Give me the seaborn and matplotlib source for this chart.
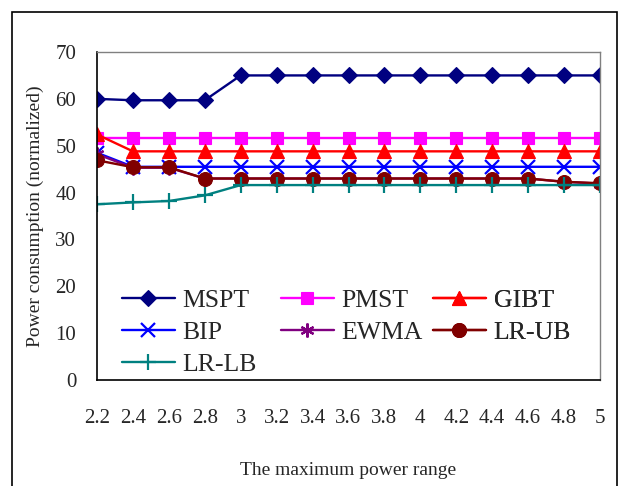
import matplotlib
matplotlib.use("Agg")
import matplotlib.pyplot as plt
import seaborn as sns
import pandas as pd
from matplotlib.patches import Rectangle

x_labels = ["2.2", "2.4", "2.6", "2.8", "3", "3.2", "3.4", "3.6", "3.8", "4",
            "4.2", "4.4", "4.6", "4.8", "5"]
mspt = [60.0, 59.7, 59.7, 59.7, 65, 65, 65, 65, 65, 65, 65, 65, 65, 65, 65]
pmst = [51.6, 51.6, 51.6, 51.6, 51.6, 51.6, 51.6, 51.6, 51.6, 51.6, 51.6, 51.6, 51.6, 51.6, 51.6]
gibt = [52.4, 48.8, 48.8, 48.8, 48.8, 48.8, 48.8, 48.8, 48.8, 48.8, 48.8, 48.8, 48.8, 48.8, 48.8]
bip = [48.5, 45.5, 45.5, 45.5, 45.5, 45.5, 45.5, 45.5, 45.5, 45.5, 45.5, 45.5, 45.5, 45.5, 45.5]
ewma = [48.2, 45.3, 45.3, 43.0, 43.0, 43.0, 43.0, 43.0, 43.0, 43.0, 43.0, 43.0, 43.0, 42.3, 41.9]
lr_ub = [46.9, 45.4, 45.4, 43.0, 43.0, 43.0, 43.0, 43.0, 43.0, 43.0, 43.0, 43.0, 43.0, 42.3, 42.0]
lr_lb = [37.5, 37.9, 38.2, 39.4, 41.6, 41.6, 41.6, 41.6, 41.6, 41.6, 41.6, 41.6, 41.6, 41.6, 41.6]

series = {"MSPT": mspt, "PMST": pmst, "GIBT": gibt, "BIP": bip,
          "EWMA": ewma, "LR-UB": lr_ub, "LR-LB": lr_lb}

rows = []
for name, vals in series.items():
    for i, v in enumerate(vals):
        rows.append({"pos": i, "value": v, "series": name})
df = pd.DataFrame(rows)

sns.set_style("white")
plt.rcParams["font.family"] = ["Liberation Serif", "DejaVu Serif"]

colors = {"MSPT": "#000080", "PMST": "#FF00FF", "GIBT": "#FF0000", "BIP": "#0000FF",
          "EWMA": "#800080", "LR-UB": "#800000", "LR-LB": "#008080"}
markers = {"MSPT": "D", "PMST": "s", "GIBT": "^", "BIP": "x",
           "EWMA": (6, 2, 0), "LR-UB": "o", "LR-LB": "+"}
msizes = {"MSPT": 8.5, "PMST": 9, "GIBT": 10, "BIP": 10,
          "EWMA": 10, "LR-UB": 10, "LR-LB": 11}

fig = plt.figure(figsize=(6.18, 4.86), dpi=100)
ax = fig.add_axes([97/618, (486-380)/486, (600-97)/618, (380-52)/486])

order = ["MSPT", "PMST", "GIBT", "BIP", "EWMA", "LR-UB", "LR-LB"]
handles = {}
for name in order:
    sub = df[df["series"] == name]
    sns.lineplot(data=sub, x="pos", y="value", ax=ax, color=colors[name],
                 marker=markers[name], markersize=msizes[name], linewidth=1.7,
                 markeredgewidth=1.6 if name in ("BIP", "EWMA", "LR-LB") else 0.8,
                 markeredgecolor=colors[name], label=name, legend=False)
    handles[name] = ax.lines[-1]

ax.set_xlim(0, len(x_labels) - 1)
ax.set_ylim(0, 70)
ax.set_xticks(range(len(x_labels)))
ax.set_xticklabels(x_labels)
ax.set_yticks(range(0, 71, 10))
ax.tick_params(axis="x", direction="in", length=6, pad=21, labelsize=15, color="black")
ax.tick_params(axis="y", direction="in", length=6, pad=15, labelsize=15, color="black")
for s in ["left", "bottom"]:
    ax.spines[s].set_color("black")
    ax.spines[s].set_linewidth(1.2)
for s in ["top", "right"]:
    ax.spines[s].set_color("#808080")
    ax.spines[s].set_linewidth(1.0)

ax.set_xlabel("The maximum power range", fontsize=14, labelpad=24)
ax.set_ylabel("Power consumption (normalized)", fontsize=14, labelpad=8)

cols = [(["MSPT", "BIP", "LR-LB"], (122 - 97) / 503),
        (["PMST", "EWMA"], (281 - 97) / 503),
        (["GIBT", "LR-UB"], (433 - 97) / 503)]
top_y = (380 - 289) / 328
for names, xpos in cols:
    leg = ax.legend([handles[n] for n in names], names, loc="upper left",
                    bbox_to_anchor=(xpos, top_y), frameon=False, fontsize=18.5,
                    handlelength=2.06, handletextpad=0.3, borderpad=0,
                    borderaxespad=0, labelspacing=0.36)
    ax.add_artist(leg)

fig.patches.append(Rectangle((12/618, -0.1), (617-12)/618, 1.1 - 12/486,
                             transform=fig.transFigure, fill=False,
                             edgecolor="black", linewidth=1.2))

fig.savefig("out.png", dpi=100)
